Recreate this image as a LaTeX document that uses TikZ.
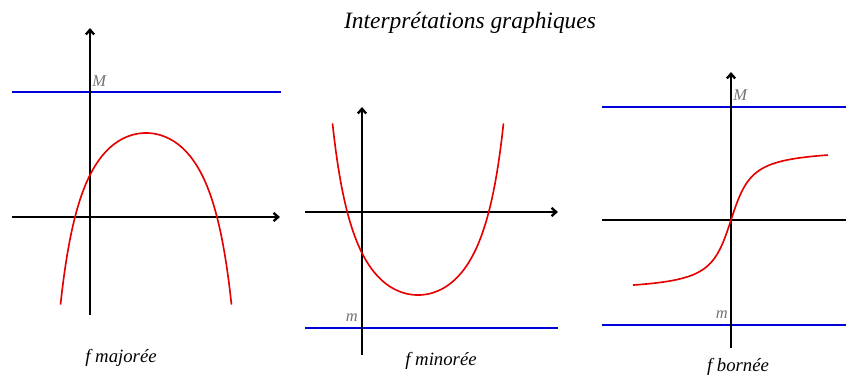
\documentclass[tikz,border=0pt]{standalone}
\usepackage{fontspec}
\setmainfont{Liberation Serif}
\usetikzlibrary{arrows.meta}

\begin{document}
\begin{tikzpicture}[x=0.03cm,y=-0.03cm,>={Straight Barb[length=4pt,width=7pt]}]
\tikzset{
  axis/.style={draw=black, line width=2pt},
  bound/.style={draw=blue!85!black, line width=1.6pt},
  curve/.style={draw=red!90!black, line width=1.4pt, samples=100},
  lbl/.style={font=\fontsize{16}{18}\selectfont\itshape, inner sep=0pt},
  bnd/.style={text=black!55, font=\fontsize{14}{16}\selectfont\itshape, inner sep=1pt}
}
\useasboundingbox (0,0) rectangle (846,378);

% Title
\node[lbl, font=\fontsize{20}{22}\selectfont\itshape] (title) at (470,23) {Interprétations graphiques};

% Panel 1 : f majoree
\draw[bound] (12,92) -- (281,92);
\draw[axis,->] (12,217) -- (280,217);
\draw[axis,->] (90,315) -- (90,28);
\draw[curve] plot[domain=-85.5:85.5] ({146+\x},{133+106*(sec(0.79*\x)-1)});
\node[bnd, anchor=south west] (M1) at (91,88) {M};
\node[lbl] (lab1) at (121,358) {f majorée};

% Panel 2 : f minoree
\draw[bound] (305,328) -- (558,328);
\draw[axis,->] (305,212) -- (558,212);
\draw[axis,->] (362,355) -- (362,107);
\draw[curve] plot[domain=-85.5:85.5] ({418+\x},{295-106*(sec(0.79*\x)-1)});
\node[bnd, anchor=south east] (m2) at (359,323) {m};
\node[lbl] (lab2) at (441,361) {f minorée};

% Panel 3 : f bornee
\draw[bound] (602,107) -- (846,107);
\draw[bound] (602,325) -- (846,325);
\draw[axis] (602,220) -- (846,220);
\draw[axis,->] (731,348) -- (731,72);
\draw[curve] plot[domain=-98:97] ({731+\x},{220-72*atan(\x/15)/90});
\node[bnd, anchor=south west] (M3) at (732,102) {M};
\node[bnd, anchor=south east] (m3) at (729,320) {m};
\node[lbl] (lab3) at (738,367) {f bornée};
\end{tikzpicture}
\end{document}
